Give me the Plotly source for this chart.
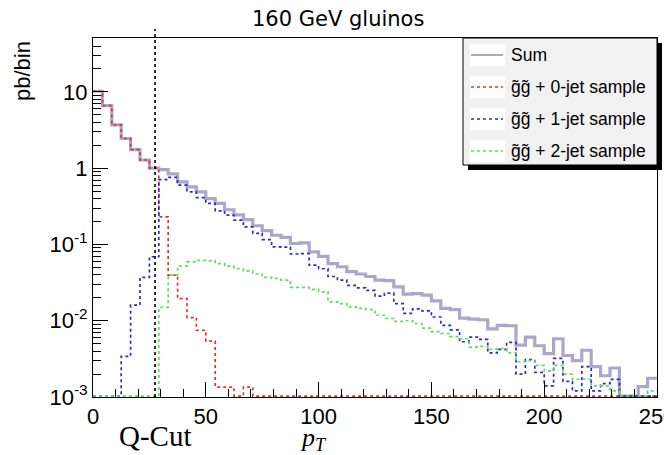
import numpy as np
import plotly.graph_objects as go

# ---------------- data (60 bins, 0-250 GeV) ----------------
x_min, x_max, n_bins = 0.0, 250.0, 60
q_cut = 27.5

sum_vals = [10.2, 6.6, 3.7, 2.45, 1.75, 1.28, 1.0, 0.96, 0.84, 0.66,
            0.57, 0.49, 0.40, 0.345, 0.285, 0.245, 0.212, 0.176, 0.152, 0.132,
            0.124, 0.103, 0.105, 0.080, 0.070, 0.056, 0.051, 0.044, 0.041, 0.038,
            0.034, 0.0335, 0.0278, 0.0223, 0.0226, 0.0216, 0.0182, 0.0145, 0.0140, 0.0108,
            0.0105, 0.0103, 0.0078, 0.0087, 0.0086, 0.0048, 0.0061, 0.0047, 0.0037, 0.0058,
            0.0035, 0.0030, 0.0041, 0.0025, 0.0019, 0.0024, 0.0, 0.0, 0.00137, 0.00176]

jet0_vals = [10.2, 6.6, 3.7, 2.45, 1.75, 1.28, 1.0, 0.23, 0.0395, 0.0195,
             0.011, 0.0075, 0.0054, 0.00135, 0.00135, 0.0, 0.00135, 0.0, 0.0, 0.0,
             0.0, 0.0, 0.0, 0.0, 0.0, 0.0, 0.0, 0.0, 0.0, 0.0,
             0.0, 0.0, 0.0, 0.0, 0.0, 0.0, 0.0, 0.0, 0.0, 0.0,
             0.0, 0.0, 0.0, 0.0, 0.0, 0.0, 0.0, 0.0, 0.0, 0.0,
             0.0, 0.0, 0.0, 0.0, 0.0, 0.0, 0.0, 0.0, 0.0, 0.0]

jet1_vals = [0.0, 0.0, 0.0, 0.0034, 0.016, 0.037, 0.069, 0.71, 0.76, 0.60,
             0.49, 0.41, 0.345, 0.276, 0.243, 0.208, 0.17, 0.14, 0.116, 0.093,
             0.092, 0.075, 0.076, 0.0535, 0.048, 0.038, 0.034, 0.029, 0.027, 0.025,
             0.021, 0.023, 0.0168, 0.0125, 0.0143, 0.0135, 0.0112, 0.0087, 0.0076, 0.0053,
             0.0061, 0.0057, 0.0038, 0.0042, 0.0052, 0.0020, 0.0031, 0.0021, 0.0014, 0.0032,
             0.0016, 0.0012, 0.0025, 0.0012, 0.0015, 0.0017, 0.0, 0.0, 0.0, 0.0]

jet2_vals = [0.0, 0.0, 0.0, 0.0, 0.0, 0.0, 0.0, 0.015, 0.040, 0.052,
             0.059, 0.062, 0.061, 0.056, 0.052, 0.048, 0.045, 0.041, 0.037, 0.0358,
             0.034, 0.0273, 0.0273, 0.0257, 0.0239, 0.0177, 0.0168, 0.0152, 0.0145, 0.0140,
             0.0118, 0.0107, 0.0098, 0.0100, 0.0092, 0.0080, 0.0072, 0.0068, 0.0062, 0.0058,
             0.0045, 0.0046, 0.0042, 0.0043, 0.0038, 0.0029, 0.0030, 0.0026, 0.0022, 0.0026,
             0.0020, 0.0017, 0.0017, 0.0014, 0.0014, 0.0012, 0.0, 0.0, 0.0, 0.0012]

series_names = ["Sum",
                "g\u0303g\u0303 + 0-jet sample",
                "g\u0303g\u0303 + 1-jet sample",
                "g\u0303g\u0303 + 2-jet sample"]

y_tick_vals = [1e-3, 1e-2, 1e-1, 1, 10]
y_tick_text = ["10<sup>-3</sup>", "10<sup>-2</sup>", "10<sup>-1</sup>", "1", "10"]
x_tick_vals = [0, 50, 100, 150, 200, 250]
x_tick_text = ["0", "50", "100", "150", "200", "250"]

# ---------------- styles ----------------
W, H = 664, 455
ML, MR, MT, MB = 93, 7, 38, 58
y_lo, y_hi = -3.0, 1.707
floor_val = 10 ** (y_lo + 0.012)

styles = [
    dict(color="#aaa6cc", width=3.2, dash="solid"),
    dict(color="#e8302c", width=1.7, dash="3px,3px"),
    dict(color="#2a2ad6", width=1.7, dash="3px,3px"),
    dict(color="#5ddc5d", width=1.7, dash="3px,3px"),
]

edges = np.linspace(x_min, x_max, n_bins + 1)


def step_y(vals):
    v = [val if val > 0 else floor_val for val in vals]
    return v + [v[-1]]


fig = go.Figure()
for vals, st, name in zip([sum_vals, jet0_vals, jet1_vals, jet2_vals], styles, series_names):
    fig.add_trace(go.Scatter(x=edges, y=step_y(vals), mode="lines", line_shape="hv",
                             line=st, name=name, showlegend=False, hoverinfo="skip"))

pw, ph = W - ML - MR, H - MT - MB


def px2x(px):
    return (px - ML) / pw


def py2y(py):
    return (H - MB - py) / ph


shapes = []
annotations = []

# Q-cut vertical dotted line
shapes.append(dict(type="line", xref="x", yref="paper", x0=q_cut, x1=q_cut,
                   y0=0, y1=py2y(29), line=dict(color="black", width=1.6, dash="dot")))

# legend box with shadow
lx0, lx1, ly0, ly1 = 463, 657, 38, 165
shapes.append(dict(type="rect", xref="paper", yref="paper", layer="above",
                   x0=px2x(lx0 + 5), x1=px2x(lx1 + 5), y0=py2y(ly1 + 5), y1=py2y(ly0 + 5),
                   fillcolor="black", line=dict(width=0)))
shapes.append(dict(type="rect", xref="paper", yref="paper", layer="above",
                   x0=px2x(lx0), x1=px2x(lx1), y0=py2y(ly1), y1=py2y(ly0),
                   fillcolor="#f1f1f1", line=dict(color="black", width=1)))
row_y = [55, 87, 119, 151]
for ry, st, name in zip(row_y, styles, series_names):
    shapes.append(dict(type="rect", xref="paper", yref="paper", layer="above",
                       x0=px2x(470), x1=px2x(505), y0=py2y(ry + 11), y1=py2y(ry - 11),
                       fillcolor="white", line=dict(width=0)))
    lw = 2 if st["dash"] == "solid" else st["width"]
    shapes.append(dict(type="line", xref="paper", yref="paper", layer="above",
                       x0=px2x(471), x1=px2x(503), y0=py2y(ry), y1=py2y(ry),
                       line=dict(color=st["color"], width=lw, dash=st["dash"])))
    annotations.append(dict(xref="paper", yref="paper", x=px2x(509), y=py2y(ry),
                            xanchor="left", yanchor="middle", showarrow=False, text=name,
                            font=dict(family="Liberation Sans", size=17.5, color="black")))

# title and labels
annotations.append(dict(xref="paper", yref="paper", x=px2x(338), y=py2y(19),
                        xanchor="center", yanchor="middle", showarrow=False,
                        text="160 GeV gluinos",
                        font=dict(family="DejaVu Sans", size=21, color="black")))
annotations.append(dict(xref="paper", yref="paper", x=px2x(22), y=py2y(71),
                        xanchor="center", yanchor="middle", showarrow=False, textangle=-90,
                        text="pb/bin",
                        font=dict(family="Liberation Sans", size=22, color="black")))
annotations.append(dict(xref="paper", yref="paper", x=px2x(155), y=py2y(436),
                        xanchor="center", yanchor="middle", showarrow=False,
                        text="Q-Cut",
                        font=dict(family="Liberation Serif", size=29, color="black")))
annotations.append(dict(xref="paper", yref="paper", x=px2x(313), y=py2y(439),
                        xanchor="center", yanchor="middle", showarrow=False,
                        text="<i>p</i><sub><i>T</i></sub>",
                        font=dict(family="Liberation Serif", size=26, color="black")))

fig.update_layout(
    width=W, height=H,
    margin=dict(l=ML, r=MR, t=MT, b=MB, pad=0, autoexpand=False),
    paper_bgcolor="white", plot_bgcolor="white",
    shapes=shapes, annotations=annotations,
    showlegend=False,
)
fig.update_xaxes(range=[x_min, x_max], showgrid=False, zeroline=False,
                 showline=True, linecolor="black", linewidth=1, mirror=True,
                 ticks="inside", ticklen=15, tickcolor="black", tickwidth=1,
                 tickvals=x_tick_vals, ticktext=x_tick_text, automargin=False,
                 ticklabeloverflow="allow",
                 minor=dict(ticks="inside", ticklen=8, dtick=10, tickcolor="black", showgrid=False),
                 tickfont=dict(family="Liberation Sans", size=22, color="black"))
fig.update_yaxes(type="log", range=[y_lo, y_hi], showgrid=False, zeroline=False,
                 showline=True, linecolor="black", linewidth=1, mirror=True,
                 ticks="inside", ticklen=15, tickcolor="black", tickwidth=1,
                 tickvals=y_tick_vals, ticktext=y_tick_text, automargin=False,
                 ticklabeloverflow="allow",
                 minor=dict(ticks="inside", ticklen=8, dtick="D1", tickcolor="black", showgrid=False),
                 tickfont=dict(family="Liberation Sans", size=22, color="black"))

fig.write_html("out.html", config={"displayModeBar": False},
               post_script="document.body.style.margin='0px';")
